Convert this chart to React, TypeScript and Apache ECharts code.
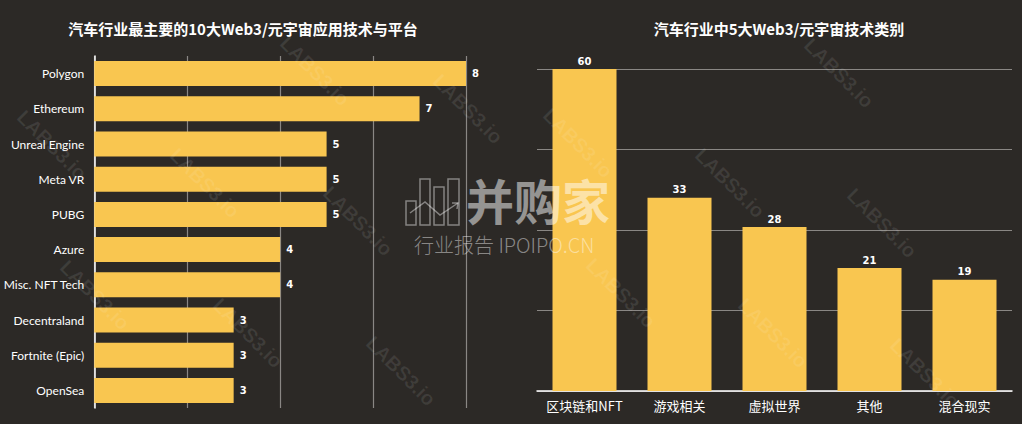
import React, { useEffect, useRef } from "react";
import * as echarts from "echarts";

const leftTitle = "汽车行业最主要的10大Web3/元宇宙应用技术与平台";
const rightTitle = "汽车行业中5大Web3/元宇宙技术类别";
const leftCategories = ["Polygon", "Ethereum", "Unreal Engine", "Meta VR", "PUBG", "Azure", "Misc. NFT Tech", "Decentraland", "Fortnite (Epic)", "OpenSea"];
const leftValues = [8, 7, 5, 5, 5, 4, 4, 3, 3, 3];
const rightCategories = ["区块链和NFT", "游戏相关", "虚拟世界", "其他", "混合现实"];
const rightValues = [60, 33, 28, 21, 19];

const BG = "#2c2926";
const BAR = "#f9c650";
const GRID = "#8a8784";

function watermarks(): any[] {
  const out: any[] = [];
  const lattices = [
    { ox: 52, oy: 145, ax: 153, ay: 38, bx: 43, by: 150, minX: 36, maxX: 500 },
    { ox: 578, oy: 143, ax: 152, ay: 40, bx: 43, by: 150, minX: 525, maxX: 986 },
  ];
  for (const L of lattices) {
    for (let n = -3; n <= 4; n++) {
      for (let m = -4; m <= 8; m++) {
        const x = L.ox + m * L.ax + n * L.bx;
        const y = L.oy + m * L.ay + n * L.by;
        if (x < L.minX || x > L.maxX || y < 36 || y > 388) continue;
        if (x > 470 && x < 560 && y > 180 && y < 270) continue;
        out.push({
          type: "text",
          x,
          y,
          rotation: -Math.PI / 4,
          z: 100,
          silent: true,
          style: {
            text: "LABS3.io",
            fill: "rgba(255,255,255,0.09)",
            font: "bold 20px 'Liberation Sans'",
            textAlign: "center",
            textVerticalAlign: "middle",
          },
        });
      }
    }
  }
  return out;
}

export default function App() {
  const ref = useRef<HTMLDivElement>(null);
  useEffect(() => {
    document.body.style.margin = "0";
    const chart = echarts.init(ref.current!, null, { renderer: "svg" });
    const wmStroke = "rgba(255,255,255,0.42)";
    chart.setOption({
      animation: false,
      backgroundColor: BG,
      grid: [
        { left: 91, top: 56, width: 375, height: 352, containLabel: false },
        { left: 537, top: 69, width: 475, height: 322, containLabel: false },
      ],
      xAxis: [
        {
          gridIndex: 0,
          type: "value",
          min: 0,
          max: 8,
          interval: 2,
          axisLine: { show: false },
          axisTick: { show: false },
          axisLabel: { show: false },
          splitLine: { show: true, lineStyle: { color: GRID, width: 1.2 } },
        },
        {
          gridIndex: 1,
          type: "category",
          data: rightCategories,
          axisLine: { show: true, lineStyle: { color: "#ffffff", width: 1.5 } },
          axisTick: { show: false },
          axisLabel: { interval: 0, color: "#ffffff", fontSize: 13, fontFamily: "'Noto Sans CJK SC'", margin: 8 },
        },
      ],
      yAxis: [
        {
          gridIndex: 0,
          type: "category",
          inverse: true,
          data: leftCategories,
          axisLine: { show: true, lineStyle: { color: "#ffffff", width: 1.5 } },
          axisTick: { show: false },
          axisLabel: { interval: 0, color: "#ffffff", fontSize: 12, fontFamily: "Lato", margin: 10 },
        },
        {
          gridIndex: 1,
          type: "value",
          min: 0,
          max: 55,
          interval: 13.75,
          axisLine: { show: false },
          axisTick: { show: false },
          axisLabel: { show: false },
          splitLine: { show: true, lineStyle: { color: GRID, width: 1.2 } },
        },
      ],
      series: [
        {
          type: "bar",
          xAxisIndex: 0,
          yAxisIndex: 0,
          data: leftValues,
          barWidth: 25,
          itemStyle: { color: BAR },
          label: {
            show: true,
            position: "right",
            distance: 6,
            color: "#ffffff",
            fontSize: 10,
            fontWeight: "bold",
            fontFamily: "'DejaVu Sans'",
          },
        },
        {
          type: "bar",
          xAxisIndex: 1,
          yAxisIndex: 1,
          data: rightValues,
          barWidth: 64,
          clip: true,
          itemStyle: { color: BAR },
          label: {
            show: true,
            position: "top",
            distance: 3,
            color: "#ffffff",
            fontSize: 10,
            fontWeight: "bold",
            fontFamily: "'DejaVu Sans'",
          },
        },
      ],
      graphic: [
        {
          type: "text",
          x: 243,
          y: 28,
          style: {
            text: leftTitle,
            fill: "#ffffff",
            font: "bold 15px 'Noto Sans CJK SC'",
            textAlign: "center",
            textVerticalAlign: "middle",
          },
        },
        {
          type: "text",
          x: 779,
          y: 28,
          style: {
            text: rightTitle,
            fill: "#ffffff",
            font: "bold 15px 'Noto Sans CJK SC'",
            textAlign: "center",
            textVerticalAlign: "middle",
          },
        },
        ...watermarks(),
        { type: "rect", z: 101, silent: true, shape: { x: 406, y: 201, width: 10, height: 24 }, style: { fill: "none", stroke: wmStroke, lineWidth: 1.5 } },
        { type: "rect", z: 101, silent: true, shape: { x: 420, y: 179, width: 10, height: 46 }, style: { fill: "none", stroke: wmStroke, lineWidth: 1.5 } },
        { type: "rect", z: 101, silent: true, shape: { x: 434, y: 187, width: 10, height: 38 }, style: { fill: "none", stroke: wmStroke, lineWidth: 1.5 } },
        { type: "rect", z: 101, silent: true, shape: { x: 448, y: 179, width: 11, height: 46 }, style: { fill: "none", stroke: wmStroke, lineWidth: 1.5 } },
        {
          type: "polyline",
          z: 101,
          silent: true,
          shape: { points: [[410, 213], [425, 202], [440, 215], [458, 203]] },
          style: { fill: "none", stroke: wmStroke, lineWidth: 1.5 },
        },
        {
          type: "polyline",
          z: 101,
          silent: true,
          shape: { points: [[452, 203], [458, 203], [457, 209]] },
          style: { fill: "none", stroke: wmStroke, lineWidth: 1.5 },
        },
        {
          type: "text",
          x: 466,
          y: 199,
          z: 101,
          silent: true,
          style: {
            text: "并购家",
            fill: "rgba(255,255,255,0.5)",
            font: "bold 48px 'Noto Sans CJK SC'",
            lineHeight: 48,
            textAlign: "left",
            textVerticalAlign: "middle",
          },
        },
        {
          type: "text",
          x: 414,
          y: 244,
          z: 101,
          silent: true,
          style: {
            text: "行业报告 IPOIPO.CN",
            fill: "rgba(255,255,255,0.45)",
            font: "300 20px 'Noto Sans CJK SC'",
            lineHeight: 20,
            textAlign: "left",
            textVerticalAlign: "middle",
          },
        },
      ],
    });
    return () => chart.dispose();
  }, []);
  return <div ref={ref} style={{ width: 1022, height: 424 }} />;
}
